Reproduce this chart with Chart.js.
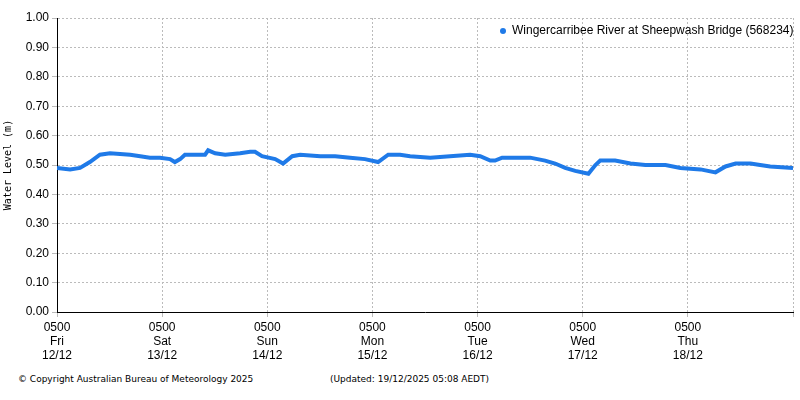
<!DOCTYPE html>
<html>
<head>
<meta charset="utf-8">
<script src="https://cdn.jsdelivr.net/npm/chart.js@4"></script>
<style>
body { margin: 0; background: #fff; font-family: "DejaVu Sans", sans-serif; }
#wrap { position: relative; width: 800px; height: 400px; }
#chart { position: absolute; left: 0; top: 0; }
.foot { position: absolute; top: 374px; font-size: 9px; color: #000; }
</style>
</head>
<body>
<div id="wrap">
<canvas id="chart" width="800" height="370"></canvas>
<div class="foot" style="left:18px">© Copyright Australian Bureau of Meteorology 2025</div>
<div class="foot" style="left:330px">(Updated: 19/12/2025 05:08 AEDT)</div>
</div>
<script>
// hours since Fri 12/12 05:00
const hours = [0, 3, 5.25, 7.5, 9.8, 12.1, 16.7, 19, 21.2, 23.5, 25.8, 26.9, 28.1, 29.2, 32.7, 33.8, 34.5, 36.1, 38.4, 41.8, 44.1, 45.2, 46.8, 49.8, 51.6, 53.7, 55.5, 60.1, 63.5, 66.9, 70.3, 73.3, 75.6, 78.3, 80.6, 85.2, 89.7, 94.3, 96.6, 98.9, 100, 101.6, 103.4, 108, 111.4, 113.7, 116, 118.3, 121.3, 122.9, 124, 127.4, 130.9, 134.3, 138.9, 142.3, 146.9, 150.3, 152.6, 154.9, 158.3, 160.5, 162.8, 168];
const levels = [0.49, 0.485, 0.49, 0.51, 0.535, 0.54, 0.535, 0.53, 0.525, 0.525, 0.52, 0.51, 0.52, 0.535, 0.535, 0.535, 0.55, 0.54, 0.535, 0.54, 0.545, 0.545, 0.53, 0.52, 0.505, 0.53, 0.535, 0.53, 0.53, 0.525, 0.52, 0.51, 0.535, 0.535, 0.53, 0.525, 0.53, 0.535, 0.53, 0.515, 0.515, 0.525, 0.525, 0.525, 0.515, 0.505, 0.49, 0.48, 0.47, 0.5, 0.515, 0.515, 0.505, 0.5, 0.5, 0.49, 0.485, 0.475, 0.495, 0.505, 0.505, 0.5, 0.495, 0.49];
const dayNames = ['Fri', 'Sat', 'Sun', 'Mon', 'Tue', 'Wed', 'Thu'];
const dayDates = ['12/12', '13/12', '14/12', '15/12', '16/12', '17/12', '18/12'];
const seriesName = 'Wingercarribee River at Sheepwash Bridge (568234)';
const lineColor = '#1f7ae8';

const legendPlugin = {
    id: 'insideLegend',
    afterDraw(chart) {
        const ctx = chart.ctx;
        ctx.save();
        ctx.fillStyle = lineColor;
        ctx.beginPath();
        ctx.arc(503, 31, 3, 0, Math.PI * 2);
        ctx.fill();
        ctx.fillStyle = '#000';
        ctx.font = '12px "Liberation Sans"';
        ctx.textBaseline = 'middle';
        ctx.fillText(seriesName, 512, 31);
        ctx.restore();
    }
};

const gridStyle = { color: '#bbb', tickLength: 5 };
const borderStyle = { color: '#000', dash: [2, 2] };

new Chart(document.getElementById('chart'), {
    type: 'line',
    data: {
        datasets: [{
            data: hours.map((h, i) => ({ x: h, y: levels[i] })),
            borderColor: lineColor,
            borderWidth: 4,
            pointRadius: 0,
            tension: 0
        }]
    },
    options: {
        responsive: false,
        animation: false,
        layout: { padding: { top: 18, right: 7, left: 0, bottom: 0 } },
        plugins: { legend: { display: false }, tooltip: { enabled: false } },
        scales: {
            x: {
                type: 'linear', min: 0, max: 168,
                grid: gridStyle,
                border: borderStyle,
                afterFit(s) { s.height = 58; },
                ticks: {
                    stepSize: 24, autoSkip: false, maxRotation: 0, color: '#000',
                    font: { family: 'Liberation Sans', size: 12 },
                    callback: v => {
                        const d = v / 24;
                        return d < 7 ? ['0500', dayNames[d], dayDates[d]] : '';
                    }
                }
            },
            y: {
                min: 0, max: 1,
                grid: gridStyle,
                border: borderStyle,
                afterFit(s) { s.width = 57; },
                title: { display: true, text: 'Water Level (m)', color: '#000', font: { family: 'DejaVu Sans Mono', size: 10 }, padding: 2 },
                ticks: {
                    stepSize: 0.1, color: '#000',
                    font: { family: 'Liberation Sans', size: 12 },
                    callback: v => v.toFixed(2)
                }
            }
        }
    },
    plugins: [legendPlugin]
});
</script>
</body>
</html>
